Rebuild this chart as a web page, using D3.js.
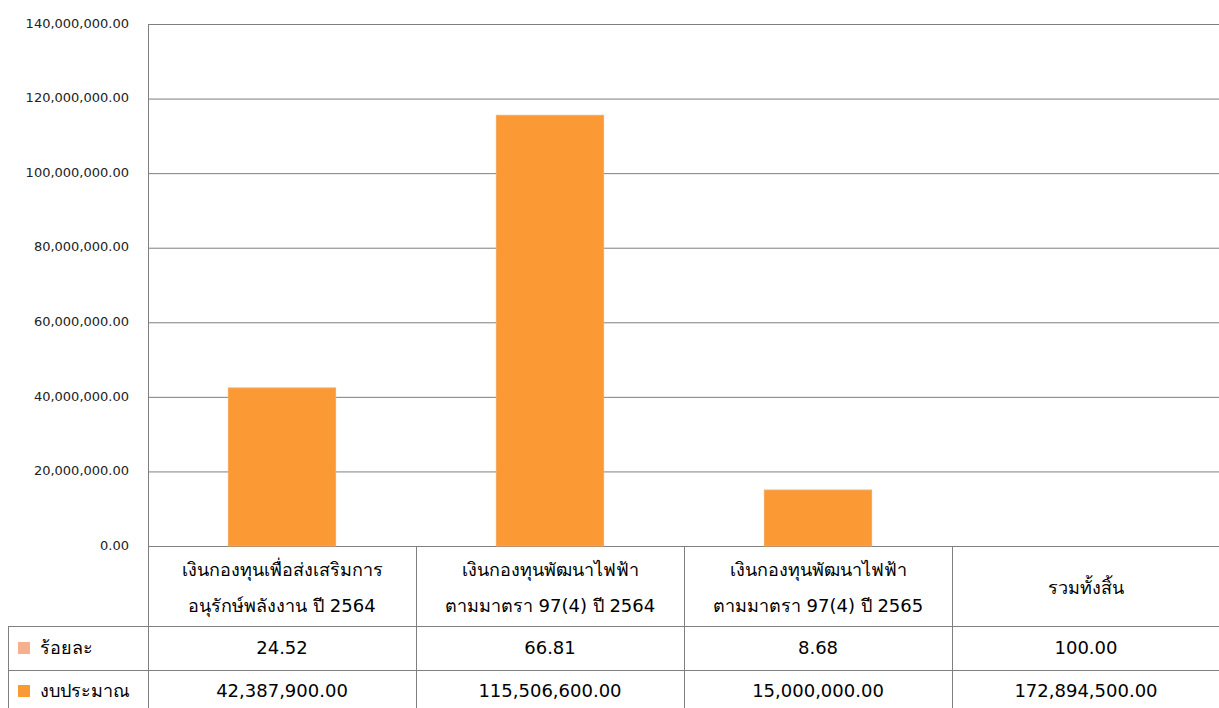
<!DOCTYPE html>
<html>
<head>
<meta charset="utf-8">
<script src="https://cdn.jsdelivr.net/npm/d3@7"></script>
<style>
  body { margin: 0; background: #fff; }
  svg { display: block; }
  .axis text { font-family: "DejaVu Sans", sans-serif; font-size: 13px; fill: #222; }
  .cell { font-family: Tahoma, "DejaVu Sans", "Noto Sans", sans-serif; font-size: 18px; fill: #000; }
</style>
</head>
<body>
<div id="container"></div>
<script>
"use strict";
// categories (two-line labels) and series values
const categories = [
    ["เงินกองทุนเพื่อส่งเสริมการ", "อนุรักษ์พลังงาน  ปี 2564"],
    ["เงินกองทุนพัฒนาไฟฟ้า", "ตามมาตรา 97(4) ปี 2564"],
    ["เงินกองทุนพัฒนาไฟฟ้า", "ตามมาตรา 97(4) ปี 2565"],
    ["รวมทั้งสิ้น"]
];
const budget = [42387900, 115506600, 15000000, null];
const percentRow = ["24.52", "66.81", "8.68", "100.00"];
const budgetRow = ["42,387,900.00", "115,506,600.00", "15,000,000.00", "172,894,500.00"];
const seriesNames = ["ร้อยละ", "งบประมาณ"];
const seriesColors = ["#F7B08E", "#FB9A35"];
const yTicks = [0, 20e6, 40e6, 60e6, 80e6, 100e6, 120e6, 140e6];

const W = 1219, H = 708;
const plotLeft = 148, plotRight = 1220, plotTop = 24, plotBottom = 546;
const rowTops = [546, 626, 670, 714];

const svg = d3.select("#container").append("svg")
    .attr("width", W)
    .attr("height", H);

const x = d3.scaleBand()
    .domain(d3.range(categories.length))
    .range([plotLeft, plotRight])
    .paddingInner(0)
    .paddingOuter(0);

const y = d3.scaleLinear()
    .domain([0, 140e6])
    .range([plotBottom, plotTop]);

const fmt = d3.format(",.2f");

// gridlines
svg.append("g")
    .selectAll("line")
    .data(yTicks)
    .enter().append("line")
        .attr("x1", plotLeft).attr("x2", plotRight)
        .attr("y1", d => y(d) + 0.5).attr("y2", d => y(d) + 0.5)
        .attr("stroke", "#7f7f7f");

// y axis labels
const yAxis = svg.append("g")
    .attr("class", "axis")
    .attr("transform", `translate(${plotLeft - 19}, 0)`)
    .call(d3.axisLeft(y).tickValues(yTicks).tickFormat(fmt).tickSize(0).tickPadding(0));
yAxis.select(".domain").remove();
yAxis.selectAll("text").attr("dy", "0.25em");

// bars
svg.append("g")
    .selectAll("rect")
    .data(budget.map((v, i) => ({v, i})).filter(d => d.v !== null))
    .enter().append("rect")
        .attr("x", d => x(d.i) + x.bandwidth() * 0.3)
        .attr("width", x.bandwidth() * 0.4)
        .attr("y", d => y(d.v))
        .attr("height", d => y(0) - y(d.v))
        .attr("fill", seriesColors[1])
        .attr("stroke", "#F5A85A")
        .attr("stroke-width", 1);

// plot left border
svg.append("line")
    .attr("x1", plotLeft + 0.5).attr("x2", plotLeft + 0.5)
    .attr("y1", plotTop).attr("y2", plotBottom)
    .attr("stroke", "#7f7f7f");

/*
 * Data table underneath
 */
const table = svg.append("g").attr("stroke", "#7f7f7f").attr("fill", "none");

// horizontal lines
table.selectAll(".hline")
    .data([rowTops[1], rowTops[2]])
    .enter().append("line")
        .attr("x1", 8).attr("x2", plotRight)
        .attr("y1", d => d + 0.5).attr("y2", d => d + 0.5);

// vertical column lines
table.selectAll(".vline")
    .data(d3.range(categories.length))
    .enter().append("line")
        .attr("x1", d => x(d) + 0.5).attr("x2", d => x(d) + 0.5)
        .attr("y1", plotBottom).attr("y2", H);

table.append("line")
    .attr("x1", 8.5).attr("x2", 8.5)
    .attr("y1", rowTops[1]).attr("y2", H);

// header labels
const head = svg.append("g");
categories.forEach((lines, i) => {
    const cx = x(i) + x.bandwidth() / 2;
    const cy = (rowTops[0] + rowTops[1]) / 2 + 2;
    lines.forEach((t, j) => {
        head.append("text")
            .attr("class", "cell")
            .attr("x", cx)
            .attr("y", cy + (j - (lines.length - 1) / 2) * 36)
            .attr("dy", "0.35em")
            .attr("text-anchor", "middle")
            .text(t);
    });
});

// data rows
[percentRow, budgetRow].forEach((row, r) => {
    const cy = (rowTops[r + 1] + rowTops[r + 2]) / 2 - (r === 1 ? 1 : 0);
    svg.append("g")
        .selectAll("text")
        .data(row)
        .enter().append("text")
            .attr("class", "cell")
            .attr("x", (d, i) => x(i) + x.bandwidth() / 2)
            .attr("y", cy)
            .attr("dy", "0.35em")
            .attr("text-anchor", "middle")
            .text(d => d);

    svg.append("rect")
        .attr("x", 18).attr("y", cy - 6)
        .attr("width", 12).attr("height", 12)
        .attr("fill", seriesColors[r]);

    svg.append("text")
        .attr("class", "cell")
        .attr("x", 40)
        .attr("y", cy)
        .attr("dy", "0.35em")
        .text(seriesNames[r]);
});
</script>
</body>
</html>
